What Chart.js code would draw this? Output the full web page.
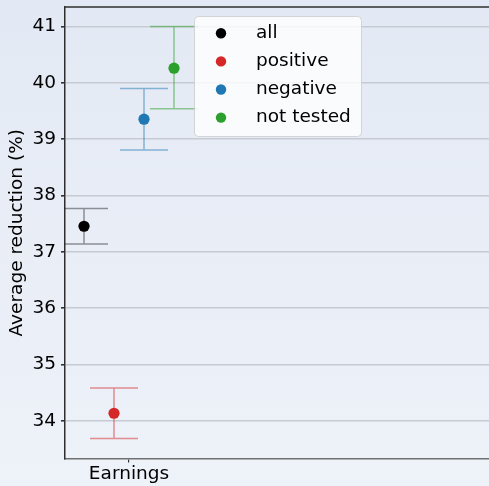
<!DOCTYPE html>
<html>
<head>
<meta charset="utf-8">
<script src="https://cdn.jsdelivr.net/npm/chart.js@4/dist/chart.umd.min.js"></script>
<style>
  html, body { margin: 0; padding: 0; overflow: hidden; background: #e8edf6; }
  canvas { display: block; }
</style>
</head>
<body>
<canvas id="c" width="489" height="486"></canvas>
<script>
// Average reduction by test group, with confidence intervals
const categories = ['Earnings'];
const seriesNames = ['all', 'positive', 'negative', 'not tested'];
const seriesColors = ['#000000', '#d62728', '#1f77b4', '#2ca02c'];
const means = [37.455, 34.137, 39.355, 40.26];
const lows  = [37.14, 33.69, 38.81, 39.54];
const highs = [37.77, 34.585, 39.90, 41.00];
const yTicks = [34, 35, 36, 37, 38, 39, 40, 41];

const FONT = 'DejaVu Sans';
const FS = 18.5;

function withAlpha(hex, a) {
  const n = parseInt(hex.slice(1), 16);
  return `rgba(${(n >> 16) & 255},${(n >> 8) & 255},${n & 255},${a})`;
}

// each series sits at a small offset around the category position
const n = seriesNames.length;
const datasets = seriesNames.map((name, i) => ({
  label: name,
  data: categories.map((c, ci) => ({
    x: ci + (i - (n - 1) / 2) * 0.2,
    y: means[i],
    lo: lows[i],
    hi: highs[i]
  })),
  backgroundColor: seriesColors[i],
  borderWidth: 0,
  pointRadius: 5.6,
  pointHoverRadius: 5.6,
  showLine: false
}));

const background = {
  id: 'background',
  beforeDraw(chart) {
    const { ctx, width, height } = chart;
    const g = ctx.createLinearGradient(0, 0, 0, height);
    g.addColorStop(0, '#e3e9f4');
    g.addColorStop(1, '#eef2f9');
    ctx.save();
    ctx.fillStyle = g;
    ctx.fillRect(0, 0, width, height);
    ctx.restore();
  }
};

const errorBars = {
  id: 'errorBars',
  beforeDatasetsDraw(chart) {
    const { ctx, chartArea: a, scales: { x, y } } = chart;
    ctx.save();
    ctx.beginPath();
    ctx.rect(a.left, a.top, a.right - a.left, a.bottom - a.top);
    ctx.clip();
    ctx.lineWidth = 1.5;
    chart.data.datasets.forEach((ds, i) => {
      ctx.strokeStyle = withAlpha(seriesColors[i], i === 0 ? 0.4 : 0.5);
      ds.data.forEach(p => {
        const px = x.getPixelForValue(p.x);
        const pLo = y.getPixelForValue(p.lo);
        const pHi = y.getPixelForValue(p.hi);
        const capHalf = x.getPixelForValue(p.x + 0.16) - px;
        ctx.beginPath();
        ctx.moveTo(px, pLo); ctx.lineTo(px, pHi);
        ctx.moveTo(px - capHalf, pLo); ctx.lineTo(px + capHalf, pLo);
        ctx.moveTo(px - capHalf, pHi); ctx.lineTo(px + capHalf, pHi);
        ctx.stroke();
      });
    });
    ctx.restore();
  }
};

const frame = {
  id: 'frame',
  afterDatasetsDraw(chart) {
    const { ctx, chartArea: a } = chart;
    ctx.save();
    ctx.strokeStyle = '#2e2e2e';
    ctx.lineWidth = 1.5;
    ctx.beginPath();
    ctx.moveTo(a.left, a.top);
    ctx.lineTo(a.right, a.top);
    ctx.stroke();
    ctx.restore();
  }
};

const boxLegend = {
  id: 'boxLegend',
  afterDraw(chart) {
    const { ctx } = chart;
    const bx = 194, by = 16, bw = 167, bh = 120, r = 4;
    ctx.save();
    ctx.beginPath();
    ctx.roundRect(bx + 0.5, by + 0.5, bw, bh, r);
    ctx.fillStyle = 'rgba(255,255,255,0.8)';
    ctx.fill();
    ctx.strokeStyle = 'rgba(204,204,204,0.8)';
    ctx.lineWidth = 1;
    ctx.stroke();
    ctx.font = `${FS}px "${FONT}"`;
    ctx.textBaseline = 'middle';
    ctx.textAlign = 'left';
    chart.data.datasets.forEach((ds, i) => {
      const cy = 33.3 + i * 28.1;
      ctx.beginPath();
      ctx.arc(221, cy, 5.2, 0, Math.PI * 2);
      ctx.fillStyle = ds.backgroundColor;
      ctx.fill();
      ctx.fillStyle = '#000';
      ctx.fillText(ds.label, 256, cy);
    });
    ctx.restore();
  }
};

new Chart(document.getElementById('c'), {
  type: 'scatter',
  data: { datasets },
  plugins: [background, errorBars, frame, boxLegend],
  options: {
    responsive: false,
    animation: false,
    layout: { autoPadding: false, padding: { top: 7, right: 0, left: 0, bottom: 0 } },
    plugins: { legend: { display: false }, tooltip: { enabled: false } },
    scales: {
      x: {
        type: 'linear',
        min: -0.4267,
        max: 2.4,
        afterBuildTicks(s) { s.ticks = categories.map((c, i) => ({ value: i })); },
        afterFit(s) { s.height = 27.5; s.paddingLeft = 0; s.paddingRight = 0; },
        ticks: {
          callback: v => categories[v],
          color: '#000',
          font: { family: FONT, size: FS },
          padding: 1,
          maxRotation: 0
        },
        grid: { drawOnChartArea: false, drawTicks: true, tickLength: 4, tickColor: '#333', lineWidth: 1.2 },
        border: { display: true, color: '#707070', width: 1.5 }
      },
      y: {
        min: 33.334,
        max: 41.346,
        afterBuildTicks(s) { s.ticks = yTicks.map(v => ({ value: v })); },
        afterFit(s) { s.width = 65; s.paddingTop = 0; s.paddingBottom = 0; },
        ticks: {
          color: '#000',
          font: { family: FONT, size: FS },
          padding: 5
        },
        grid: { color: '#c6cad1', lineWidth: 1.6, tickLength: 4, tickColor: '#333' },
        border: { display: true, color: '#2e2e2e', width: 1.5 },
        title: {
          display: true,
          text: 'Average reduction (%)',
          color: '#000',
          font: { family: FONT, size: FS },
          padding: { top: 6, bottom: 4 }
        }
      }
    }
  }
});
</script>
</body>
</html>
